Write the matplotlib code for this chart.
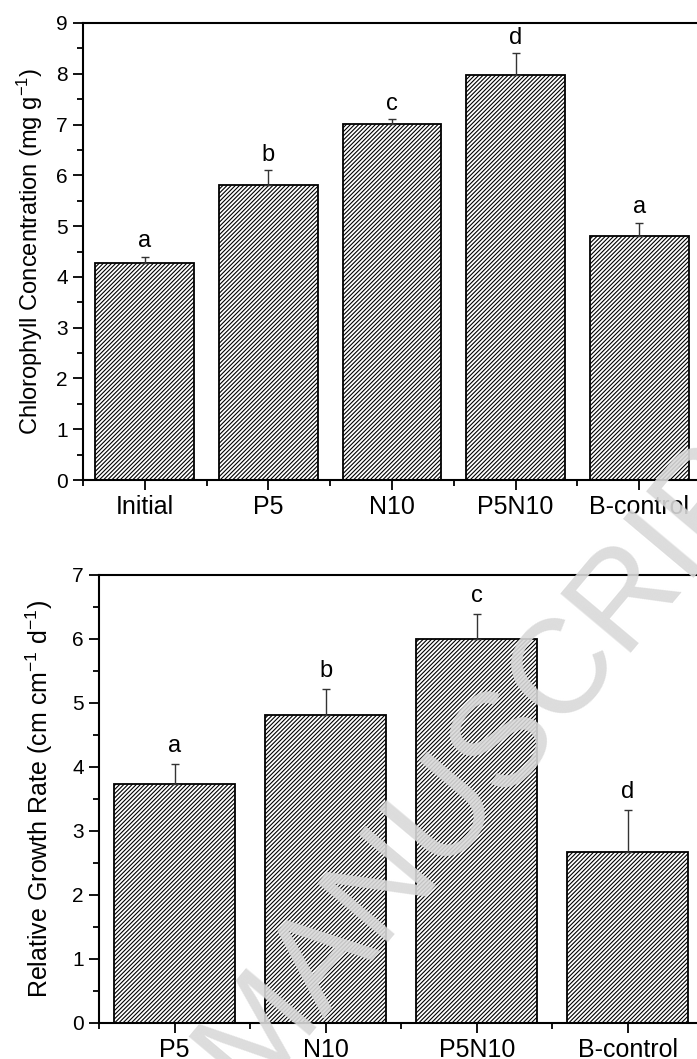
import numpy as np
import matplotlib
matplotlib.use("Agg")
import matplotlib.pyplot as plt
from matplotlib.ticker import MultipleLocator, FixedLocator

plt.rcParams['font.family'] = ['Liberation Sans', 'DejaVu Sans']
plt.rcParams['mathtext.default'] = 'regular'
plt.rcParams['hatch.linewidth'] = 0.8

# top panel: chlorophyll
chl_groups = ['Initial', 'P5', 'N10', 'P5N10', 'B-control']
chl_mean = [4.28, 5.80, 7.01, 7.98, 4.81]
chl_err = [0.12, 0.31, 0.10, 0.43, 0.26]
chl_letters = ['a', 'b', 'c', 'd', 'a']

# bottom panel: relative growth rate
rgr_groups = ['P5', 'N10', 'P5N10', 'B-control']
rgr_mean = [3.73, 4.81, 6.00, 2.67]
rgr_err = [0.32, 0.41, 0.39, 0.66]
rgr_letters = ['a', 'b', 'c', 'd']

fig = plt.figure(figsize=(6.97, 10.59), dpi=100)
ax1 = fig.add_axes([83/697, 1-480/1059, 618/697, 457/1059])
ax2 = fig.add_axes([99/697, 1-1023/1059, 604.5/697, 448/1059])


def draw_panel(ax, groups, mean, err, letters, ymax, ylabel, off, labx, labsize):
    x = np.arange(len(groups))
    ax.bar(x, mean, width=0.8, color='white', edgecolor='black',
           linewidth=1.3, hatch='////////', zorder=2)
    ax.errorbar(x, mean, yerr=[np.zeros(len(err)), err], fmt='none',
                ecolor='#333333', elinewidth=1.0, capsize=3, capthick=1.0, zorder=3)
    for xi, m, e, l in zip(x, mean, err, letters):
        ax.annotate(l, (xi, m + e), xytext=(0, off), textcoords='offset points',
                    ha='center', va='bottom', fontsize=17)
    ax.set_xlim(-0.5, len(groups) - 0.5)
    ax.set_ylim(0, ymax)
    ax.set_xticks(x)
    ax.set_xticklabels(groups, fontsize=18)
    ax.xaxis.set_minor_locator(FixedLocator(np.arange(-0.5, len(groups), 1.0)))
    ax.yaxis.set_major_locator(MultipleLocator(1))
    ax.yaxis.set_minor_locator(MultipleLocator(0.5))
    ax.tick_params(axis='y', labelsize=15, pad=4)
    ax.tick_params(which='major', length=7, width=1.3, direction='out')
    ax.tick_params(which='minor', length=4, width=1.3, direction='out')
    ax.tick_params(axis='x', which='major', pad=4)
    for s in ax.spines.values():
        s.set_linewidth(1.5)
    ax.set_ylabel(ylabel, fontsize=labsize)
    ax.yaxis.set_label_coords(labx, 0.5)


draw_panel(ax1, chl_groups, chl_mean, chl_err, chl_letters, 9,
           'Chlorophyll Concentration (mg g$^{-1}$)', 3, -0.062, 17)
draw_panel(ax2, rgr_groups, rgr_mean, rgr_err, rgr_letters, 7,
           'Relative Growth Rate (cm cm$^{-1}$ d$^{-1}$)', 5, -0.072, 18)

# watermark
fig.text(0.38, 0.022, 'ACCEPTED MANUSCRIPT', fontsize=96, color='#d9d9d9',
         alpha=0.9, rotation=50, rotation_mode='anchor',
         ha='center', va='center', zorder=10)

fig.savefig('out.png', dpi=100)
